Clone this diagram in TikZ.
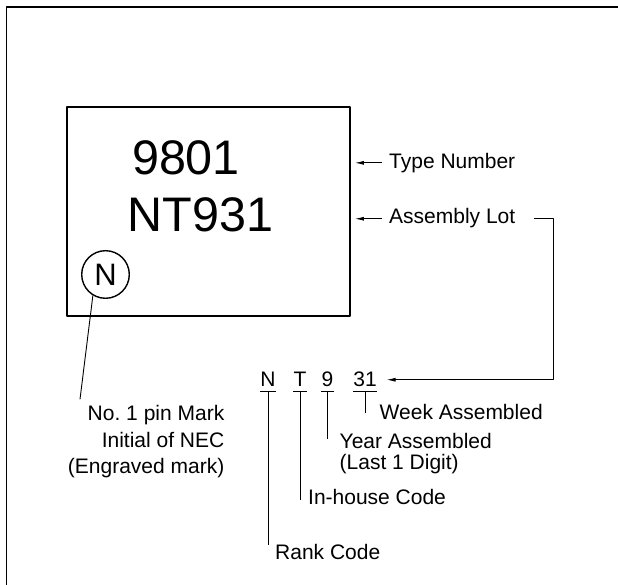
\documentclass[tikz,border=0pt]{standalone}
\usepackage{fontspec}
\setmainfont{Liberation Sans}
\usetikzlibrary{arrows.meta}
\newcommand{\lblfont}{\fontsize{21}{21.2}\selectfont}
\begin{document}
\begin{tikzpicture}[x=1pt,y=1pt,>={Latex[length=9pt,width=4pt]},line join=round,
	lbl/.style={font=\lblfont,inner sep=0pt},
	big/.style={font=\fontsize{48.5}{50}\selectfont,inner sep=0pt,anchor=base},
	ptr/.style={->,line width=0.9pt},
	lead/.style={line width=0.9pt},
	chr/.style={font=\lblfont,inner xsep=0pt,inner ysep=4.5pt,anchor=base}]
	\useasboundingbox (0,0) rectangle (618,585);
	\draw[line width=1.3pt] (6.5,0) -- (6.5,578) -- (618,578);
	\node[draw,line width=2.2pt,minimum width=283pt,minimum height=208.7pt,inner sep=0pt] (chip) at (208.3,373.65) {};
	\node[big] (typenum) at (186,410) {9801};
	\node[big] (lotnum) at (200.5,353.3) {NT931};
	\node[draw,circle,line width=1.4pt,minimum size=47.6pt,inner sep=0pt,font=\fontsize{31}{32}\selectfont] (pin) at (105.5,310.5) {N};
	\coordinate (pinend) at (80,185.7);
	\draw[lead] (pin.239) -- (pinend);
	\node[lbl,align=right,anchor=north east,font=\fontsize{21}{26.7}\selectfont] (pinlbl) at (224.5,180.1) {No.\ 1 pin Mark\\Initial of NEC\\(Engraved mark)};
	\node[lbl,anchor=base west] (typelbl) at (389,416.7) {Type Number};
	\node[lbl,anchor=base west] (lotlbl) at (389,361) {Assembly Lot};
	\draw[ptr] ([xshift=-7pt,yshift=2.8pt]typelbl.mid west) -- ([xshift=4pt,yshift=2.8pt]chip.east |- typelbl.mid west);
	\draw[ptr] ([xshift=-7pt,yshift=2.6pt]lotlbl.mid west) -- ([xshift=4pt,yshift=2.6pt]chip.east |- lotlbl.mid west);
	\node[chr] (cN) at (268,198) {N};
	\node[chr] (cT) at (300,198) {T};
	\node[chr] (c9) at (327.5,198) {9};
	\node[chr] (c31) at (365,198) {31};
	\foreach \c in {cN,cT,c9,c31}
		\draw[lead] (\c.south west) -- (\c.south east);
	\draw[ptr] ([xshift=19pt,yshift=2.6pt]lotlbl.mid east) -- ++(19,0) |- ([xshift=9.7pt]c31.east);
	\node[lbl,anchor=base west] (week) at (379.5,165) {Week Assembled};
	\node[lbl,anchor=north west,align=left] (year) at (339.5,151.8) {Year Assembled\\(Last 1 Digit)};
	\node[lbl,anchor=base west] (inhouse) at (308,80) {In-house Code};
	\node[lbl,anchor=base west] (rank) at (275,25) {Rank Code};
	\draw[lead] (cN.south) -- (cN.south |- rank.north);
	\draw[lead] (cT.south) -- ([yshift=2.3pt]cT.south |- inhouse.mid);
	\draw[lead] (c9.south) -- ([yshift=-6pt]c9.south |- year.north);
	\draw[lead] (c31.south) -- ([yshift=4.6pt]c31.south |- week.mid);
\end{tikzpicture}
\end{document}
